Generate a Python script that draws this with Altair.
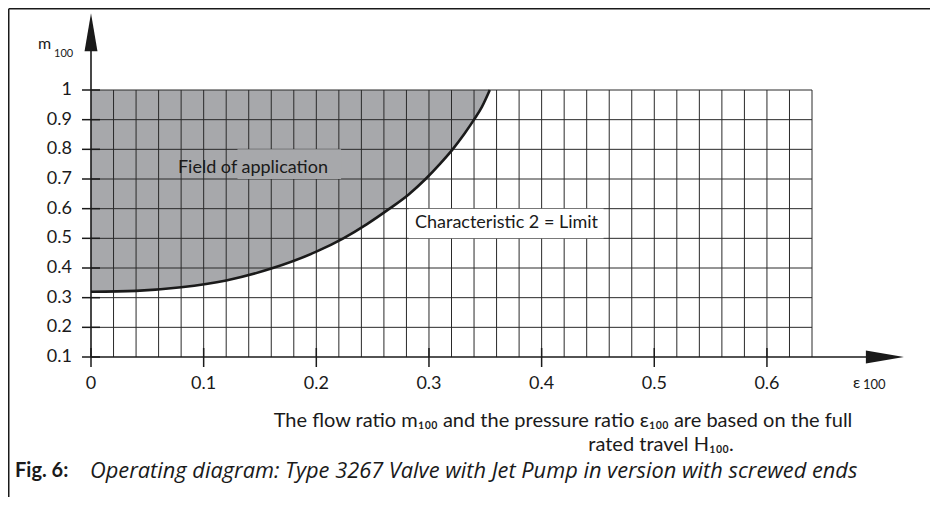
import altair as alt
import pandas as pd

# ---- data ----
eps_curve = [0.0, 0.04, 0.08, 0.12, 0.16, 0.20, 0.224, 0.245, 0.265, 0.282,
             0.297, 0.31, 0.321, 0.331, 0.34, 0.347, 0.354]
m_curve = [0.32, 0.323, 0.335, 0.358, 0.398, 0.455, 0.50, 0.548, 0.60, 0.648,
           0.70, 0.752, 0.80, 0.85, 0.90, 0.943, 1.0]

x_ticks = [0, 0.1, 0.2, 0.3, 0.4, 0.5, 0.6]
y_ticks = [0.1, 0.2, 0.3, 0.4, 0.5, 0.6, 0.7, 0.8, 0.9, 1.0]
x_grid = [round(0.02 * i, 2) for i in range(1, 33)]
y_grid = [0.2, 0.3, 0.4, 0.5, 0.6, 0.7, 0.8, 0.9, 1.0]

X_MIN, X_MAX = 0.0, 0.64
Y_MIN, Y_MAX = 0.1, 1.0

FONT = "Lato"
FILL = "#a7a8ab"
INK = "#1a1a1a"

xs = alt.Scale(domain=[X_MIN, X_MAX], nice=False, zero=False)
ys = alt.Scale(domain=[Y_MIN, Y_MAX], nice=False, zero=False)

def X(f):
    return alt.X(f, scale=xs, axis=None)

def Y(f):
    return alt.Y(f, scale=ys, axis=None)

curve = pd.DataFrame({"eps": eps_curve, "m": m_curve, "top": [Y_MAX] * len(eps_curve)})

# shaded field of application
area = alt.Chart(curve).mark_area(color=FILL, opacity=1, interpolate="monotone").encode(
    x=X("eps:Q"), y=Y("m:Q"), y2="top:Q",
)

vgrid_df = pd.DataFrame({"eps": x_grid, "y0": [Y_MIN] * len(x_grid), "y1": [Y_MAX] * len(x_grid)})
hgrid_df = pd.DataFrame({"m": y_grid, "x0": [X_MIN] * len(y_grid), "x1": [X_MAX] * len(y_grid)})

vgrid = alt.Chart(vgrid_df).mark_rule(color="#2a2a2a", strokeWidth=1).encode(
    x=X("eps:Q"), y=Y("y0:Q"), y2="y1:Q",
)
hgrid = alt.Chart(hgrid_df).mark_rule(color="#2a2a2a", strokeWidth=1).encode(
    y=Y("m:Q"), x=X("x0:Q"), x2="x1:Q",
)

# label boxes
boxes_df = pd.DataFrame({
    "x0": [0.13, 0.282], "x1": [0.222, 0.455],
    "y0": [0.7, 0.5], "y1": [0.8, 0.6],
    "c": [FILL, "white"],
})
boxes = alt.Chart(boxes_df).mark_rect().encode(
    x=X("x0:Q"), x2="x1:Q", y=Y("y0:Q"), y2="y1:Q",
    color=alt.Color("c:N", scale=None),
)

line = alt.Chart(curve).mark_line(color=INK, strokeWidth=2.6, interpolate="monotone").encode(
    x=X("eps:Q"), y=Y("m:Q"),
)

# axis lines with arrow heads
axes_df = pd.DataFrame({"x0": [0.0, 0.0], "x1": [0.0, 0.69], "y0": [0.1, 0.1], "y1": [1.16, 0.1]})
axis_lines = alt.Chart(axes_df).mark_rule(color=INK, strokeWidth=1.6).encode(
    x=X("x0:Q"), x2="x1:Q", y=Y("y0:Q"), y2="y1:Q",
)
ARROW = "M0,-1L0.34,1L-0.34,1Z"
arrows_df = pd.DataFrame({"eps": [0.0, 0.7047], "m": [1.195, 0.1], "ang": [0, 90]})
arrows = alt.Chart(arrows_df).mark_point(shape=ARROW, size=1444, filled=True, opacity=1,
                                          color=INK, strokeWidth=0).encode(
    x=X("eps:Q"), y=Y("m:Q"),
    angle=alt.Angle("ang:Q", scale=None),
)

# ticks (crossing the axis lines) and tick labels
xt_df = pd.DataFrame({"eps": x_ticks, "lab": [f"{v:g}" for v in x_ticks]})
yt_df = pd.DataFrame({"m": y_ticks, "lab": [f"{v:g}" for v in y_ticks]})

x_tick_marks = alt.Chart(xt_df).mark_tick(color=INK, orient="vertical", size=19,
                                          thickness=1.5, opacity=1).encode(
    x=X("eps:Q"), y=alt.value(267.5),
)
y_tick_marks = alt.Chart(yt_df).mark_tick(color=INK, orient="horizontal", size=18,
                                          thickness=1.5, opacity=1).encode(
    y=Y("m:Q"), x=alt.value(0),
)
x_labels = alt.Chart(xt_df).mark_text(font=FONT, fontSize=18, color=INK, align="center",
                                      baseline="middle").encode(
    x=X("eps:Q"), y=alt.value(294), text="lab:N",
)
y_labels = alt.Chart(yt_df).mark_text(font=FONT, fontSize=18, color=INK, align="right",
                                      baseline="middle").encode(
    y=Y("m:Q"), x=alt.value(-19), text="lab:N",
)

# in-plot annotations
ann_df = pd.DataFrame({
    "eps": [0.0772, 0.2876],
    "m": [0.737, 0.552],
    "t": ["Field of application", "Characteristic 2 = Limit"],
})
ann = alt.Chart(ann_df).mark_text(font=FONT, fontSize=18, color=INK, align="left",
                                  baseline="middle").encode(
    x=X("eps:Q"), y=Y("m:Q"), text="t:N",
)

def label(txt, x, y, size, align="left", baseline="alphabetic", weight="normal",
          style="normal", font=FONT):
    return alt.Chart(pd.DataFrame({"t": [txt]})).mark_text(
        font=font, fontSize=size, color=INK, align=align, baseline=baseline,
        fontWeight=weight, fontStyle=style,
    ).encode(x=alt.value(x), y=alt.value(y), text="t:N")

texts = [
    label("m", -53, -41, 16),
    label("100", -37, -33, 11),
    label("ε", 762, 298, 16),
    label("100", 772, 299, 13),
    label("The flow ratio m₁₀₀ and the pressure ratio ε₁₀₀ are based on the full",
          472, 331, 20, align="center", baseline="middle"),
    label("rated travel H₁₀₀.", 570, 355, 20, align="center", baseline="middle"),
    label("Fig. 6:", -76, 381, 20, baseline="middle", weight="bold"),
    label("Operating diagram: Type 3267 Valve with Jet Pump in version with screwed ends",
          -1, 381, 21.8, baseline="middle", style="italic", font="Open Sans"),
]

# figure frame (left and top border)
frame_left = alt.Chart(pd.DataFrame({"k": [0]})).mark_rule(color=INK, strokeWidth=1.5).encode(
    x=alt.value(-82.25), y=alt.value(-81.25), y2=alt.value(420))
frame_top = alt.Chart(pd.DataFrame({"k": [0]})).mark_rule(color=INK, strokeWidth=1.5).encode(
    x=alt.value(-82.25), x2=alt.value(845), y=alt.value(-81.25))

chart = alt.layer(
    area, vgrid, hgrid, boxes, line, axis_lines, arrows,
    x_tick_marks, y_tick_marks, x_labels, y_labels, ann, *texts, frame_left, frame_top
).properties(
    width=721, height=267,
    padding={"left": 83, "top": 82, "right": 118, "bottom": 140},
    autosize="none",
).configure_view(stroke=None)

chart.save("out.html", embed_options={"renderer": "svg", "actions": False})
